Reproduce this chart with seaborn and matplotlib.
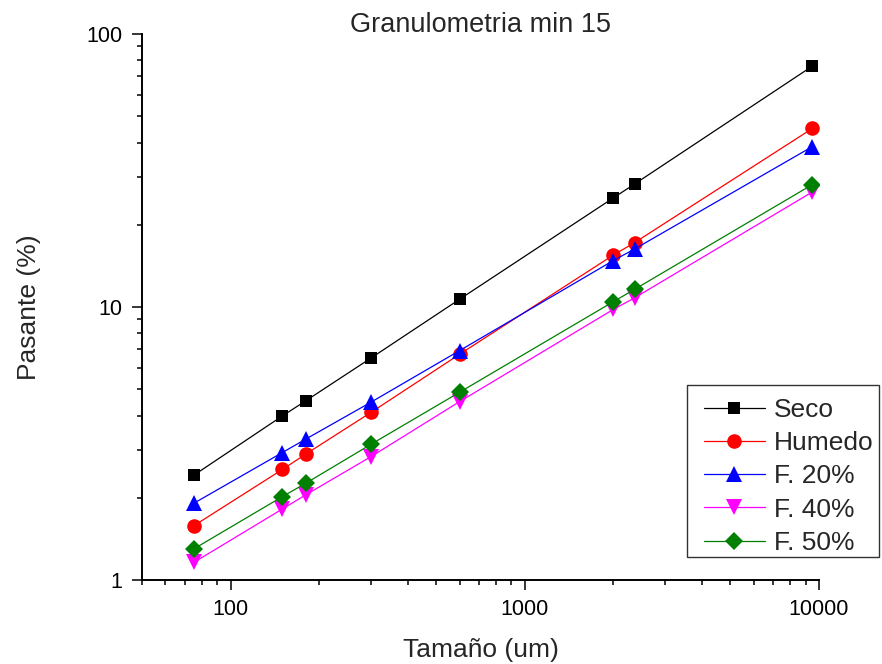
import matplotlib
matplotlib.use("Agg")
import matplotlib.pyplot as plt
from matplotlib.patches import Rectangle
from matplotlib.ticker import LogLocator, FixedLocator, NullFormatter, FuncFormatter
import numpy as np
import pandas as pd
import seaborn as sns

# Sieve sizes (um) and cumulative passing (%) for each condition
tamano = [75, 150, 180, 300, 600, 2000, 2360, 9500]
seco = [2.42, 3.99, 4.53, 6.5, 10.67, 25.1, 28.2, 76.3]
humedo = [1.58, 2.54, 2.89, 4.11, 6.71, 15.5, 17.2, 45.1]
f20 = [1.91, 2.93, 3.28, 4.48, 6.92, 14.8, 16.3, 38.7]
f40 = [1.16, 1.82, 2.05, 2.83, 4.50, 9.80, 10.8, 26.4]
f50 = [1.30, 2.02, 2.26, 3.14, 4.87, 10.46, 11.6, 28.1]

series = ["Seco", "Humedo", "F. 20%", "F. 40%", "F. 50%"]
values = [seco, humedo, f20, f40, f50]
colors = ["#000000", "#FF0000", "#0000FF", "#FF00FF", "#008000"]
markers = ["s", "o", "^", "v", "D"]
msizes = [9, 10.5, 11, 11, 9.5]

sns.set_theme(style="ticks")
plt.rcParams["font.family"] = ["Liberation Sans", "DejaVu Sans"]

df = pd.DataFrame({
    "Tamaño": np.tile(tamano, len(series)),
    "Pasante": np.concatenate(values),
    "Serie": np.repeat(series, len(tamano)),
})

W, H = 882, 664
fig = plt.figure(figsize=(W / 100, H / 100), dpi=100)
ax = fig.add_axes([142 / W, 84 / H, (819 - 142) / W, (580 - 34) / H])

for name, col, mk, ms in zip(series, colors, markers, msizes):
    sub = df[df["Serie"] == name]
    sns.lineplot(data=sub, x="Tamaño", y="Pasante", ax=ax, color=col,
                 marker=mk, markersize=ms, markeredgewidth=0,
                 linewidth=0.9, label=name, legend=False)

ax.set_xscale("log")
ax.set_yscale("log")
ax.set_xlim(50, 10000)
ax.set_ylim(1, 100)

ax.xaxis.set_major_locator(FixedLocator([100, 1000, 10000]))
ax.xaxis.set_minor_locator(LogLocator(base=10, subs=np.arange(2, 10)))
ax.yaxis.set_major_locator(FixedLocator([1, 10, 100]))
ax.yaxis.set_minor_locator(LogLocator(base=10, subs=np.arange(2, 10)))
fmt = FuncFormatter(lambda v, p: f"{v:g}")
ax.xaxis.set_major_formatter(fmt)
ax.yaxis.set_major_formatter(fmt)
ax.xaxis.set_minor_formatter(NullFormatter())
ax.yaxis.set_minor_formatter(NullFormatter())

ax.tick_params(which="major", direction="out", length=7, width=1.1,
               labelsize=15.5, color="black", labelcolor="black", pad=7)
ax.tick_params(which="minor", direction="out", length=3.6, width=1.1,
               color="black")

for side in ["top", "right"]:
    ax.spines[side].set_visible(False)
for side in ["left", "bottom"]:
    ax.spines[side].set_linewidth(1.4)
    ax.spines[side].set_color("black")

ax.set_xlabel("Tamaño (um)", fontsize=19, labelpad=13)
ax.set_ylabel("Pasante (%)", fontsize=19, labelpad=33)
ax.set_title("Granulometria min 15", fontsize=19.5, y=1.0, pad=1.5)

# Legend entries without their own frame; the box is drawn separately
leg = ax.legend(loc="upper left", bbox_to_anchor=(704 / W, 1 - 398 / H),
                bbox_transform=fig.transFigure, fontsize=19, frameon=False,
                handlelength=2.3, handletextpad=0.35, labelspacing=0.35,
                borderpad=0, borderaxespad=0)
fig.patches.append(Rectangle((687 / W, 1 - 557 / H), (879 - 687) / W,
                             (557 - 385) / H, transform=fig.transFigure,
                             fill=False, edgecolor="#333333", linewidth=1.0,
                             zorder=5))

fig.savefig("out.png", dpi=100)
